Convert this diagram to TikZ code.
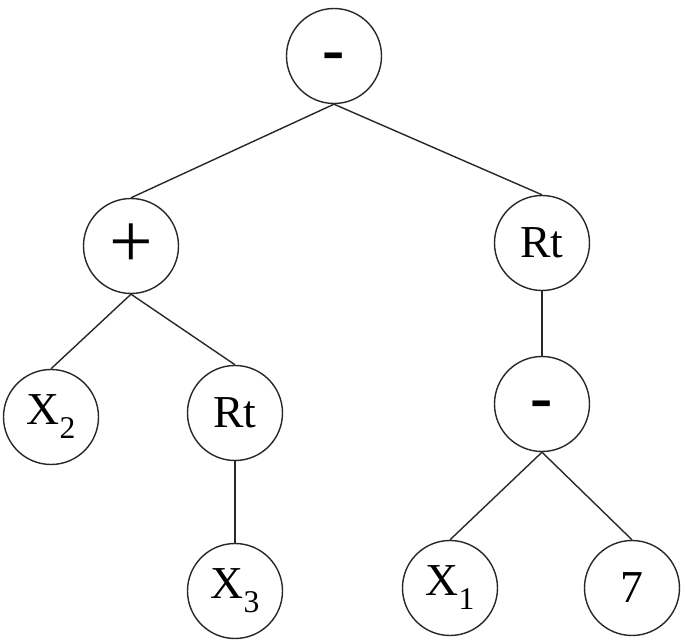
\documentclass[tikz,border=0pt]{standalone}
\usepackage{fontspec}
\setmainfont{Liberation Serif}
\usepackage{tikz}
\definecolor{edgeGray}{RGB}{40,40,40}
\newcommand{\lowidx}[1]{\raisebox{-8pt}{\fontsize{18}{18}\selectfont #1}}
\tikzset{
  opNode/.style={circle,draw=edgeGray,line width=0.8pt,minimum size=1.9cm,
                 inner sep=0pt,font=\fontsize{26}{28}\selectfont},
  treeEdge/.style={line width=0.8pt,edgeGray},
}

\begin{document}
\begin{tikzpicture}[
  opBig/.style={opNode,font=\fontsize{44}{46}\selectfont},
  opMinus/.style={opNode,font=\fontsize{38}{40}\selectfont\bfseries,
                  text height=18pt,text depth=0pt}
]
  \useasboundingbox (0,0) rectangle (13.7,-12.82);
  \node[opMinus](root) at (6.68,-1.12)  {-};
  \node[opBig](plus)   at (2.62,-4.92)  {+};
  \node[opNode](rtA)   at (10.84,-4.86) {Rt};
  \node[opNode](xTwo)  at (1.02,-8.34)  {X\lowidx{2}};
  \node[opNode](rtB)   at (4.70,-8.26)  {Rt};
  \node[opMinus](minB) at (10.84,-8.08) {-};
  \node[opNode](xThree) at (4.70,-11.82) {X\lowidx{3}};
  \node[opNode](xOne)  at (9.00,-11.76) {X\lowidx{1}};
  \node[opNode](seven) at (12.64,-11.76){7};
  \foreach \p/\c in {root/plus,root/rtA,plus/xTwo,plus/rtB,rtB/xThree,
                     rtA/minB,minB/xOne,minB/seven}{
    \draw[treeEdge](\p.south)--(\c.north);
  }
\end{tikzpicture}
\end{document}
